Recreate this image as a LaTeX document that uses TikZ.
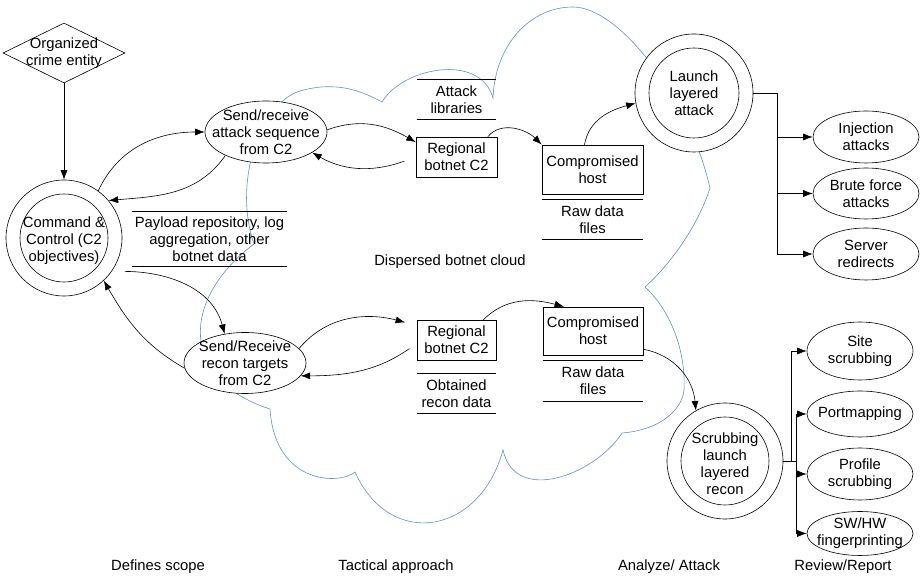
\documentclass[tikz,border=0pt]{standalone}
\usepackage{fontspec}
\setmainfont{Liberation Sans}
\usetikzlibrary{arrows.meta,shapes.geometric}

\begin{document}
\begin{tikzpicture}[x=1pt,y=1pt,line width=0.6pt,
  every node/.style={font=\fontsize{14.8}{17}\selectfont},
  txt/.style={align=center,inner sep=0pt},
  proc/.style={ellipse,draw,fill=white,inner sep=0pt},
  ring/.style={circle,draw,fill=white,inner sep=0pt},
  box/.style={rectangle,draw,align=center,inner sep=2pt},
  store/.style={align=center,inner sep=0pt,minimum height=40pt},
  arr/.style={-{Latex[length=9.5pt,width=7pt]}}]
  \definecolor{cloudline}{HTML}{5D8FD4}
  \useasboundingbox (0,0) rectangle (921,580);
  % dispersed botnet cloud
  \draw[cloudline] (270,171) .. controls (180,200) and (180,280) .. (254,336)
    .. controls (232,400) and (262,478) .. (300,489)
    .. controls (335,499) and (360,490) .. (382,478)
    .. controls (402,512) and (480,528) .. (493,482)
    .. controls (495,535) and (530,573) .. (573,573)
    .. controls (620,573) and (690,480) .. (710,392)
    .. controls (700,360) and (675,320) .. (645,293)
    .. controls (670,270) and (686,230) .. (684,190)
    .. controls (682,170) and (660,150) .. (622,147)
    .. controls (595,105) and (515,75) .. (503,130)
    .. controls (480,45) and (390,30) .. (355,108)
    .. controls (340,95) and (275,95) .. (270,171) -- cycle;
  \node[txt] (cloudlbl) at (450,318) {Dispersed botnet cloud};

  % scope
  \node[diamond,draw,minimum width=122pt,minimum height=60pt,inner sep=0pt] (crime) at (64,527) {};
  \node[txt] (crimetxt) at (crime) {Organized\\crime entity};
  \node[ring,minimum size=116pt] (c2) at (64,342) {};
  \node[ring,minimum size=88pt] (c2in) at (c2) {};
  \node[txt,yshift=-3pt] (c2txt) at (c2) {Command \&\\Control (C2\\objectives)};
  \draw[arr] (crime.south) -- (c2.north);

  % tactical approach
  \node[proc,minimum width=122pt,minimum height=62pt] (atkseq) at (266,448) {};
  \node[txt] (atkseqtxt) at (atkseq) {Send/receive\\attack sequence\\from C2};
  \node[proc,minimum width=122pt,minimum height=61pt] (recon) at (245,217) {};
  \node[txt] (recontxt) at (recon) {Send/Receive\\recon targets\\from C2};
  \node[store,minimum width=155pt,minimum height=54pt] (payload) at (209.5,341) {Payload repository, log\\aggregation, other\\botnet data};
  \node[store,minimum width=79pt] (atklib) at (456.5,480.5) {Attack\\libraries};
  \node[box,minimum width=81pt,minimum height=40pt] (reg1) at (456.5,423) {Regional\\botnet C2};
  \node[box,minimum width=101pt,minimum height=49pt] (host1) at (592.5,410.5) {Compromised\\host};
  \node[store,minimum width=101pt,minimum height=39pt] (raw1) at (592.5,360.5) {Raw data\\files};
  \node[box,minimum width=79pt,minimum height=40pt] (reg2) at (456.5,240) {Regional\\botnet C2};
  \node[store,minimum width=79pt,minimum height=39pt] (recdata) at (456.5,186.5) {Obtained\\recon data};
  \node[box,minimum width=100pt,minimum height=48pt] (host2) at (593,249) {Compromised\\host};
  \node[store,minimum width=100pt] (raw2) at (593,199) {Raw data\\files};
  \foreach \s in {payload,atklib,raw1,recdata,raw2}
    \draw (\s.north west) -- (\s.north east) (\s.south west) -- (\s.south east);

  % analyze / attack
  \node[ring,minimum size=118pt] (launch) at (694,487) {};
  \node[ring,minimum size=90pt] (launchin) at (launch) {};
  \node[txt] (launchtxt) at (launch) {Launch\\layered\\attack};
  \node[ring,minimum size=116pt] (scrub) at (725,119) {};
  \node[ring,minimum size=88pt] (scrubin) at (scrub) {};
  \node[txt,yshift=-3pt] (scrubtxt) at (scrub) {Scrubbing\\launch\\layered\\recon};

  \draw[arr] (c2.54) to[out=65,in=180] (atkseq.west);
  \draw[arr] (atkseq.210) to[out=235,in=5] (c2.40);
  \draw[arr] (atkseq.2) to[out=20,in=150] (reg1.160);
  \draw[arr,shorten <=12pt] (reg1.180) to[out=200,in=-30] (atkseq.-24);
  \draw[arr] (reg1.33) to[out=50,in=135] (host1.north west);
  \draw[arr] (host1.108) to[out=80,in=195] (launch.190);
  \draw[arr,shorten <=13pt] (c2.-35) to[out=0,in=105] (recon.125);
  \draw[arr] (recon.185) to[out=150,in=-60] (c2.-47);
  \draw[arr,shorten >=12pt] (recon.15) to[out=50,in=165] (reg2.160);
  \draw[arr,shorten <=9pt] (reg2.185) to[out=215,in=0] (recon.-13);
  \draw[arr] (reg2.37) to[out=45,in=165] (host2.140);
  \draw[arr] (host2.-20) to[out=-10,in=95] (scrub.120);

  % review / report
  \foreach \n/\y/\h/\t in {inj/443/52/{Injection\\attacks},brute/386.5/51/{Brute force\\attacks},server/326/52/{Server\\redirects}} {
    \node[proc,minimum width=106pt,minimum height=\h pt] (\n) at (866,\y) {};
    \node[txt] (\n-t) at (\n) {\t};
    \draw[arr] (launch.east) -- ++(24,0) |- (\n.west);
  }
  \foreach \n/\y/\h/\d/\t in {site/229/58/8/{Site\\scrubbing},port/166/46/13/{Portmapping},prof/106/52/13/{Profile\\scrubbing},swhw/46.5/44/13/{SW/HW\\fingerprinting}} {
    \node[proc,minimum width=106pt,minimum height=\h pt] (\n) at (860,\y) {};
    \node[txt] (\n-t) at (\n) {\t};
    \draw[arr] (scrub.east) -- ++(\d,0) |- (\n.west);
  }

  % phases
  \node[txt] (ph1) at (158,13) {Defines scope};
  \node[txt] (ph2) at (396,13) {Tactical approach};
  \node[txt] (ph3) at (669,13) {Analyze/ Attack};
  \node[txt] (ph4) at (843,13) {Review/Report};
\end{tikzpicture}
\end{document}
